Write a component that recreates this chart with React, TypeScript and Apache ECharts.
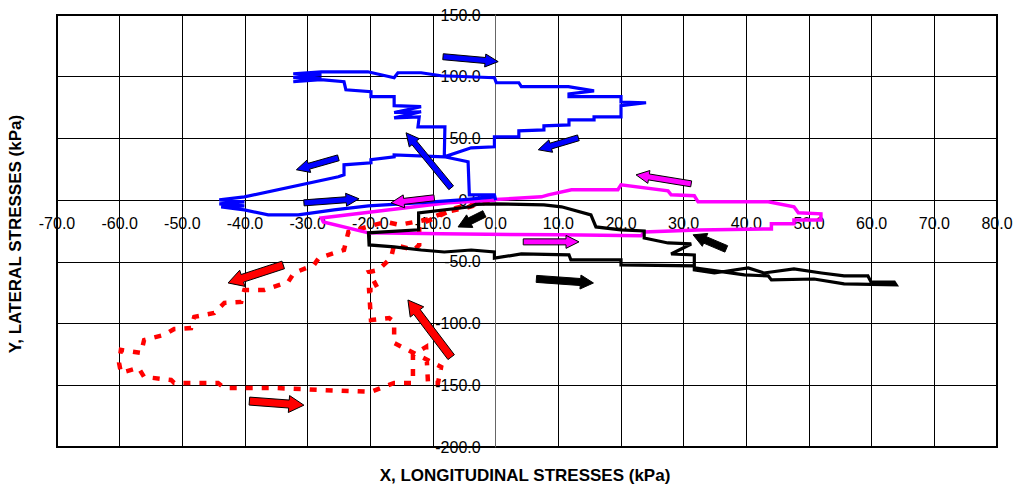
import React, { useEffect, useRef } from "react";
import * as echarts from "echarts";

// ---- data (x = longitudinal stress kPa, y = lateral stress kPa) ----
const bluePath: number[][] = [
  [0, 0], [-0.2, 4.3], [-4.2, 4.3], [-4.4, 31.1], [-8.2, 35.1], [-8.1, 59.4], [-12.4, 59.4],
  [-12.2, 67.5], [-16.2, 66.7], [-11.9, 71.6], [-16.2, 71.0], [-11.9, 75.7], [-16.2, 76.5],
  [-16.2, 83.8], [-19.9, 83.8], [-19.9, 87.8], [-23.9, 89.4], [-24.2, 95.9], [-27.9, 97.6],
  [-32.3, 95.9], [-27.8, 98.4], [-32.3, 99.2], [-27.8, 101.6], [-32.3, 102.4], [-27.8, 104.0],
  [-20.4, 104.0], [-16.2, 99.2], [-15.6, 103.2], [-11.9, 103.2], [-8.7, 100.8], [-0.2, 99.2],
  [0.1, 95.1], [3.7, 95.1], [4.1, 91.9], [11.6, 91.9], [15.7, 88.5], [11.7, 86.0], [11.7, 83.8],
  [20.0, 83.8], [20.0, 79.5], [24.0, 78.9], [20.0, 76.5], [20.0, 67.5], [15.7, 67.5], [15.7, 65.1],
  [11.7, 65.1], [11.7, 61.0], [7.7, 60.2], [7.7, 56.9], [3.7, 56.1], [3.7, 51.3], [-0.2, 51.3],
  [-0.2, 43.2], [-3.9, 42.4], [-8.2, 35.1], [-16.2, 36.7], [-16.2, 35.1], [-19.9, 32.7],
  [-19.9, 30.2], [-24.2, 28.6], [-24.2, 20.5], [-25.1, 18.9], [-40.1, 2.7], [-44.1, 0.2],
  [-40.1, -1.4], [-44.1, -3.0], [-40.1, -4.6], [-43.8, -5.4], [-40.1, -7.9], [-36.3, -11.9],
  [-31.5, -11.9], [-25.8, -7.9], [-20.3, -4.6], [-12.4, -2.2], [-5.5, 0.2], [0, 2.7],
];

const magentaPath: number[][] = [
  [0, 0], [-7.6, -2.2], [-19.9, -9.6], [-27.8, -14.5], [-27.5, -17.7], [-20.3, -26.5],
  [-8.7, -27.3], [10.4, -28.1], [23.2, -28.9], [23.7, -25.8], [32.3, -24.1], [44.0, -23.3],
  [44.0, -19.2], [47.6, -19.2], [47.6, -16.0], [51.9, -16.0], [51.9, -11.1], [48.3, -10.3],
  [47.6, -5.4], [43.5, -1.4], [32.3, -1.4], [31.7, 3.5], [28.0, 4.3], [27.5, 7.5], [20.0, 12.4],
  [19.5, 8.4], [12.1, 8.4], [8.4, 4.3], [7.3, 2.7], [0, 0.5],
];

const blackPath: number[][] = [
  [0, -3.0], [-3.2, -3.5], [-4.0, -5.4], [-12.3, -10.3], [-12.3, -24.0], [-20.3, -26.5],
  [-20.2, -36.3], [-16.2, -37.9], [-11.9, -40.4], [-8.2, -42.0], [-3.9, -40.4], [-0.2, -42.0],
  [-0.2, -47.0], [4.1, -43.6], [11.7, -44.4], [12.0, -48.4], [20.0, -48.4], [20.0, -52.5],
  [31.7, -53.3], [31.7, -56.5], [34.9, -59.0], [40.3, -54.9], [42.8, -59.0], [47.6, -55.7],
  [52.0, -59.0], [55.6, -61.4], [59.4, -61.4], [59.9, -66.3], [63.6, -66.3], [63.9, -68.7],
  [55.6, -67.9], [50.8, -63.9], [44.0, -64.6], [43.5, -61.4], [39.7, -60.6], [31.7, -54.9],
  [31.7, -44.4], [28.0, -43.6], [31.2, -35.5], [27.5, -34.7], [23.7, -30.7], [23.7, -25.0],
  [20.0, -24.1], [16.0, -21.7], [15.2, -12.0], [10.5, -5.4], [7.7, -3.8], [0, -3.0],
];

const redPath: number[][] = [
  [-1, -1], [-4.7, -6.2], [-7.9, -9.5], [-11.1, -16.0], [-15.4, -20.0], [-17.5, -17.6],
  [-23.5, -25.7], [-24.2, -40.3], [-28.2, -46.8], [-29.0, -52.5], [-32.2, -59.0], [-33.1, -66.2],
  [-36.9, -72.7], [-40.1, -72.7], [-40.6, -82.5], [-43.3, -83.3], [-44.9, -91.4], [-48.1, -94.6],
  [-48.6, -103.6], [-51.3, -104.4], [-52.9, -109.2], [-56.1, -113.3], [-56.6, -123.8],
  [-59.8, -121.3], [-60.1, -131.8], [-59.8, -139.9], [-57.0, -135.9], [-56.1, -143.2],
  [-51.8, -145.7], [-51.3, -148.1], [-44.3, -148.1], [-43.3, -152.1], [-35.5, -152.1],
  [-28.3, -153.7], [-19.9, -155.3], [-16.2, -148.1], [-13.2, -148.1], [-13.2, -125.4],
  [-11.1, -118.9], [-10.8, -148.1], [-9.2, -148.1], [-8.7, -135.1], [-16.2, -115.7],
  [-16.2, -98.7], [-17.0, -95.5], [-19.9, -97.1], [-20.2, -72.7], [-18.7, -72.7], [-20.2, -58.2],
  [-18.7, -56.5], [-16.7, -46.8], [-16.2, -36.3], [-13.0, -40.3], [-12.2, -36.3], [-12.2, -20.0],
  [-8.7, -11.9], [-6.3, -6.2], [-2.3, -2.2],
];

// arrows: [tailX, tailY, headX, headY]
const blueArrows: number[][] = [
  [-8.4, 116.2, 0.4, 112.2],
  [13.2, 50.5, 6.8, 40.8],
  [-25.1, 34.3, -31.8, 24.6],
  [-30.6, -2.2, -21.8, 1.1],
  [-7.1, 10.0, -14.3, 54.6],
];
const magentaArrows: number[][] = [
  [-9.8, 1.9, -16.7, -2.2],
  [31.2, 13.2, 22.4, 20.5],
  [4.4, -33.8, 13.3, -33.8],
];
const blackArrows: number[][] = [
  [-1.8, -11.1, -6.0, -21.7],
  [36.8, -39.5, 31.5, -28.1],
  [6.5, -63.8, 15.6, -67.1],
];
const redArrows: number[][] = [
  [-33.9, -52.5, -42.7, -67.1],
  [-39.3, -162.8, -30.6, -166.1],
  [-7.1, -127.2, -14.0, -80.9],
];

const X_MIN = -70, X_MAX = 80, X_STEP = 10;
const Y_MIN = -200, Y_MAX = 150, Y_STEP = 50;
const X_TITLE = "X, LONGITUDINAL STRESSES (kPa)";
const Y_TITLE = "Y, LATERAL STRESSES (kPa)";

// layout
const W = 1013, H = 488;
const G_LEFT = 57, G_RIGHT = 16, G_TOP = 15, G_BOTTOM = 41;
const plotW = W - G_LEFT - G_RIGHT;
const plotH = H - G_TOP - G_BOTTOM;
// move axes so they cross at the origin (as in the reference)
const xAxisOffset = -(plotH * (0 - Y_MIN) / (Y_MAX - Y_MIN));
const yAxisOffset = -(plotW * (0 - X_MIN) / (X_MAX - X_MIN));

function arrowSeries(data: number[][], fill: string, w: number, hw: number, hl: number) {
  return {
    type: "custom",
    z: 5,
    encode: { x: [0, 2], y: [1, 3] },
    data,
    renderItem: (_params: any, api: any) => {
      const t = api.coord([api.value(0), api.value(1)]);
      const h = api.coord([api.value(2), api.value(3)]);
      const dx = h[0] - t[0];
      const dy = h[1] - t[1];
      const len = Math.hypot(dx, dy) || 1;
      const ux = dx / len;
      const uy = dy / len;
      const px = -uy;
      const py = ux;
      const bx = h[0] - ux * hl;
      const by = h[1] - uy * hl;
      const pts = [
        [t[0] + px * w, t[1] + py * w],
        [bx + px * w, by + py * w],
        [bx + px * hw, by + py * hw],
        [h[0], h[1]],
        [bx - px * hw, by - py * hw],
        [bx - px * w, by - py * w],
        [t[0] - px * w, t[1] - py * w],
      ];
      return {
        type: "polygon",
        shape: { points: pts },
        style: { fill, stroke: "#000", lineWidth: 1 },
      };
    },
  };
}

function lineSeries(data: number[][], color: string, width: number, type: any = "solid") {
  return {
    type: "line",
    data,
    showSymbol: false,
    symbol: "none",
    z: 3,
    lineStyle: { color, width, type, join: "miter" },
  };
}

export default function App() {
  const ref = useRef<HTMLDivElement>(null);
  useEffect(() => {
    if (!ref.current) return;
    const chart = echarts.init(ref.current, undefined, { renderer: "svg" });
    const labelFont = { fontFamily: "Arial, 'Liberation Sans', sans-serif", fontSize: 16, color: "#000" };
    chart.setOption({
      animation: false,
      backgroundColor: "#fff",
      grid: {
        left: G_LEFT, right: G_RIGHT, top: G_TOP, bottom: G_BOTTOM,
        outerBoundsMode: "none",
        containLabel: false,
        show: true, borderColor: "#000", borderWidth: 2, backgroundColor: "transparent",
      },
      xAxis: {
        type: "value", min: X_MIN, max: X_MAX, interval: X_STEP,
        position: "bottom", offset: xAxisOffset,
        axisLine: { onZero: false, lineStyle: { color: "#000", width: 1 } },
        axisTick: { show: false },
        axisLabel: { ...labelFont, margin: 15, showMinLabel: true, showMaxLabel: true,
          formatter: (v: number) => v.toFixed(1) },
        splitLine: { show: true, lineStyle: { color: "#000", width: 1 } },
      },
      yAxis: {
        type: "value", min: Y_MIN, max: Y_MAX, interval: Y_STEP,
        position: "left", offset: yAxisOffset,
        axisLine: { onZero: false, lineStyle: { color: "#666", width: 1 } },
        axisTick: { show: false },
        axisLabel: { ...labelFont, margin: 15, showMinLabel: true, showMaxLabel: true,
          formatter: (v: number) => v.toFixed(1) },
        splitLine: { show: true, lineStyle: { color: "#000", width: 1 } },
      },
      graphic: [
        {
          type: "text", x: 525, y: 475,
          style: { text: X_TITLE, font: "bold 17px Arial, 'Liberation Sans', sans-serif",
            fill: "#000", align: "center", verticalAlign: "middle" },
        },
        {
          type: "text", x: 15, y: 234, rotation: Math.PI / 2,
          style: { text: Y_TITLE, font: "bold 17px Arial, 'Liberation Sans', sans-serif",
            fill: "#000", align: "center", verticalAlign: "middle" },
        },
      ],
      series: [
        lineSeries(redPath, "#ff0000", 4.5, [7, 9]),
        lineSeries(magentaPath, "#ff00ff", 3.5),
        lineSeries(blackPath, "#000000", 3.2),
        lineSeries(bluePath, "#0000ff", 3.2),
        arrowSeries(blueArrows, "#0000ff", 3, 6.5, 13),
        arrowSeries(magentaArrows, "#ff00ff", 3, 6.5, 13),
        arrowSeries(blackArrows, "#000000", 3.5, 7, 13),
        arrowSeries(redArrows, "#ff0000", 4, 8.5, 15),
      ],
    });
    return () => chart.dispose();
  }, []);
  return (
    <div
      ref={ref}
      style={{ position: "absolute", left: 0, top: 0, width: W, height: H, background: "#fff" }}
    />
  );
}
